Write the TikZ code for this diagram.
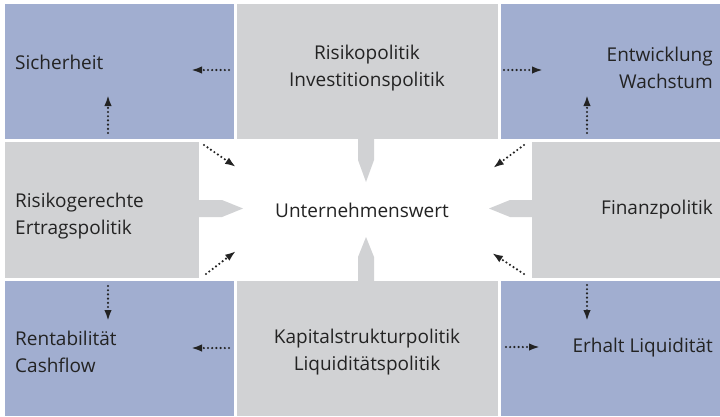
\documentclass[tikz,border=0pt]{standalone}
\usepackage{fontspec}
\setmainfont{Open Sans}
\usetikzlibrary{arrows.meta}
\definecolor{bluefill}{RGB}{161,174,208}
\definecolor{greyfill}{RGB}{209,210,212}
\definecolor{txt}{RGB}{35,35,35}
\begin{document}
\begin{tikzpicture}[x=1pt,y=-1pt,
  boxB/.style={fill=bluefill, draw=none, inner sep=0pt, outer sep=0pt, anchor=north west},
  boxG/.style={fill=greyfill, draw=none, inner sep=0pt, outer sep=0pt, anchor=north west},
  lbl/.style={text=txt, font=\fontsize{19}{26.5}\selectfont, inner sep=0pt},
  dotarrow/.style={txt, line width=2.4pt, dash pattern=on 0pt off 4.2pt, line cap=round,
    -{Latex[length=11pt,width=7.5pt]}}]
\useasboundingbox[fill=white] (0,0) rectangle (720,416);
% boxes
\node[boxB, minimum width=229pt, minimum height=135pt] (tl) at (5,4) {};
\node[boxG, minimum width=261pt, minimum height=135pt] (tm) at (237,4) {};
\node[boxB, minimum width=219pt, minimum height=135pt] (tr) at (501,4) {};
\node[boxG, minimum width=194pt, minimum height=136pt] (ml) at (5,142) {};
\node[boxG, minimum width=188pt, minimum height=136pt] (mr) at (532,142) {};
\node[boxB, minimum width=229pt, minimum height=135pt] (bl) at (5,281) {};
\node[boxG, minimum width=261pt, minimum height=135pt] (bm) at (237,281) {};
\node[boxB, minimum width=219pt, minimum height=135pt] (br) at (501,281) {};
% block arrows towards the centre
\fill[greyfill] (358,138) -- (374,138) -- (374,160) -- (366,182) -- (358,160) -- cycle;
\fill[greyfill] (358,282) -- (374,282) -- (374,257) -- (366,237) -- (358,257) -- cycle;
\fill[greyfill] (198,200) -- (222,200) -- (243,208.5) -- (222,217) -- (198,217) -- cycle;
\fill[greyfill] (533,200) -- (510,200) -- (489,208.5) -- (510,217) -- (533,217) -- cycle;
% texts
\node[lbl, anchor=west] (t1) at (15,62) {Sicherheit};
\node[lbl, align=center] (t2) at (367,68) {Risikopolitik\\Investitionspolitik};
\node[lbl, align=right, anchor=east] (t3) at (713,68) {Entwicklung\\Wachstum};
\node[lbl, align=left, anchor=west] (t4) at (15,216) {Risikogerechte\\Ertragspolitik};
\node[lbl] (t5) at (362,210) {Unternehmenswert};
\node[lbl, anchor=east] (t6) at (713,210) {Finanzpolitik};
\node[lbl, align=left, anchor=west] (t7) at (15,352) {Rentabilität\\Cashflow};
\node[lbl, align=center] (t8) at (367,352) {Kapitalstrukturpolitik\\Liquiditätspolitik};
\node[lbl, anchor=east] (t9) at (713,348) {Erhalt Liquidität};
% dotted arrow end points
\coordinate (a1s) at (229,70);  \coordinate (a1e) at (191,70);
\coordinate (a2s) at (108,133); \coordinate (a2e) at (108,95);
\coordinate (a3s) at (504,70);  \coordinate (a3e) at (543,70);
\coordinate (a4s) at (587,133); \coordinate (a4e) at (587,95);
\coordinate (a5s) at (204,145); \coordinate (a5e) at (236,167);
\coordinate (a6s) at (524,145); \coordinate (a6e) at (493,168);
\coordinate (a7s) at (206,274); \coordinate (a7e) at (236,251);
\coordinate (a8s) at (524,274); \coordinate (a8e) at (492,253);
\coordinate (a9s) at (108,286); \coordinate (a9e) at (108,321);
\coordinate (a10s) at (229,348); \coordinate (a10e) at (191,348);
\coordinate (a11s) at (587,285); \coordinate (a11e) at (587,321);
\coordinate (a12s) at (506,347); \coordinate (a12e) at (540,347);
\foreach \i in {1,...,12}{\draw[dotarrow] (a\i s) -- (a\i e);}
\end{tikzpicture}
\end{document}
